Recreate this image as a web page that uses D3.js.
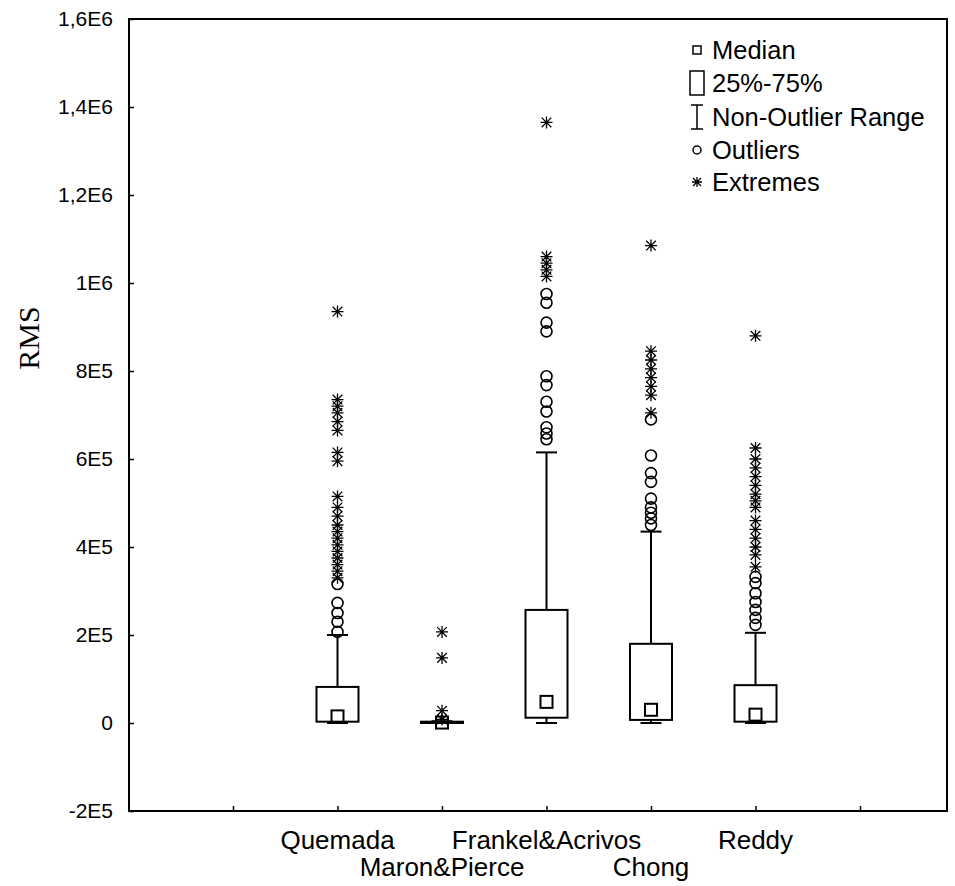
<!DOCTYPE html>
<html>
<head>
<meta charset="utf-8">
<script src="https://cdn.jsdelivr.net/npm/d3@7"></script>
<style>
  html, body { margin: 0; padding: 0; background: #fff; }
  svg { display: block; }
  text { font-family: "Liberation Sans", Arial, sans-serif; fill: #000; }
</style>
</head>
<body>
<svg id="chart" width="955" height="886"></svg>
<script>
// Box-plot summary per model
const categories = ["Quemada", "Maron&Pierce", "Frankel&Acrivos", "Chong", "Reddy"];
const whiskerLow  = [0, 0, 0, 0, 0];
const q1          = [3000, 0, 12000, 7000, 3000];
const medians     = [15000, 1000, 48000, 30000, 19000];
const q3          = [82000, 3000, 257000, 180000, 86000];
const whiskerHigh = [200000, 4000, 615000, 435000, 205000];

// Outliers (circles) and extremes (asterisks) per model
const outliers = [
  [207000, 230000, 250000, 273000, 316000],
  [],
  [645000, 658000, 672000, 708000, 730000, 768000, 788000, 890000, 910000, 955000, 975000],
  [450000, 465000, 478000, 490000, 510000, 548000, 568000, 608000, 690000],
  [223000, 239000, 257000, 275000, 295000, 318000, 332000]
];
const extremes = [
  [330000, 345000, 360000, 375000, 390000, 405000, 420000, 435000, 450000, 470000, 490000,
   515000, 595000, 615000, 665000, 685000, 705000, 720000, 735000, 935000],
  [8000, 28000, 148000, 207000],
  [1015000, 1030000, 1045000, 1060000, 1365000],
  [705000, 745000, 765000, 785000, 805000, 825000, 845000, 1085000],
  [355000, 382000, 400000, 420000, 440000, 460000, 490000, 505000, 520000, 540000,
   560000, 580000, 600000, 625000, 880000]
];

// Axis ticks
const yTicks = [-200000, 0, 200000, 400000, 600000, 800000, 1000000, 1200000, 1400000, 1600000];
const yTickLabels = ["-2E5", "0", "2E5", "4E5", "6E5", "8E5", "1E6", "1,2E6", "1,4E6", "1,6E6"];
const xTicks = [0, 1, 2, 3, 4, 5, 6];

const legendItems = ["Median", "25%-75%", "Non-Outlier Range", "Outliers", "Extremes"];

const svg = d3.select("#chart");
const frame = { left: 129, right: 947, top: 19, bottom: 811 };

const y = d3.scaleLinear().domain([-200000, 1600000]).range([frame.bottom, frame.top]);
const x = d3.scaleLinear().domain([0, 6]).range([233, 860]);

svg.append("rect").attr("width", 955).attr("height", 886).attr("fill", "#fff");

// Y axis (ticks point inward)
const yAxis = d3.axisLeft(y)
  .tickValues(yTicks)
  .tickSize(-5)
  .tickPadding(16)
  .tickFormat((d, i) => yTickLabels[i]);
const gy = svg.append("g").attr("transform", `translate(${frame.left},0)`).call(yAxis);
gy.select(".domain").remove();
gy.selectAll("line").attr("stroke", "#000").attr("stroke-width", 1.5);
gy.selectAll("text").style("font-size", "21px").attr("fill", "#000");

// X axis ticks (inward), labels drawn separately in two staggered rows
const xAxis = d3.axisBottom(x).tickValues(xTicks).tickSize(-5).tickFormat("");
const gx = svg.append("g").attr("transform", `translate(0,${frame.bottom})`).call(xAxis);
gx.select(".domain").remove();
gx.selectAll("line").attr("stroke", "#000").attr("stroke-width", 1.5);

svg.append("g").selectAll("text")
  .data(categories)
  .join("text")
  .attr("x", (d, i) => x(i + 1))
  .attr("y", (d, i) => i % 2 === 0 ? 849 : 876)
  .attr("text-anchor", "middle")
  .style("font-size", "26px")
  .text(d => d);

// Frame
svg.append("rect")
  .attr("x", frame.left).attr("y", frame.top)
  .attr("width", frame.right - frame.left).attr("height", frame.bottom - frame.top)
  .attr("fill", "none").attr("stroke", "#000").attr("stroke-width", 2);

// Y axis title
svg.append("text")
  .attr("transform", "translate(39,338) rotate(-90)")
  .attr("text-anchor", "middle")
  .style("font-family", "'Liberation Serif', 'Times New Roman', serif")
  .style("font-size", "30px")
  .text("RMS");

const boxW = 42, capW = 21, medS = 12;

function starPath(r) {
  const d = r * 0.8;
  return `M${-r},0L${r},0M0,${-r}L0,${r}M${-d},${-d}L${d},${d}M${-d},${d}L${d},${-d}`;
}

const boxes = svg.append("g");
categories.forEach((c, i) => {
  const cx = x(i + 1);
  const g = boxes.append("g");
  // whisker stem
  g.append("line")
    .attr("x1", cx).attr("x2", cx)
    .attr("y1", y(whiskerLow[i])).attr("y2", y(whiskerHigh[i]))
    .attr("stroke", "#000").attr("stroke-width", 2);
  // caps
  [whiskerLow[i], whiskerHigh[i]].forEach(v => {
    g.append("line")
      .attr("x1", cx - capW / 2).attr("x2", cx + capW / 2)
      .attr("y1", y(v)).attr("y2", y(v))
      .attr("stroke", "#000").attr("stroke-width", 2);
  });
  // box
  g.append("rect")
    .attr("x", cx - boxW / 2).attr("width", boxW)
    .attr("y", y(q3[i])).attr("height", Math.max(1, y(q1[i]) - y(q3[i])))
    .attr("fill", "#fff").attr("stroke", "#000").attr("stroke-width", 2);
  // median
  g.append("rect")
    .attr("x", cx - medS / 2).attr("y", y(medians[i]) - medS / 2)
    .attr("width", medS).attr("height", medS)
    .attr("fill", "none").attr("stroke", "#000").attr("stroke-width", 2);
  // outliers
  g.selectAll("circle.o").data(outliers[i]).join("circle")
    .attr("class", "o")
    .attr("cx", cx).attr("cy", d => y(d)).attr("r", 5.5)
    .attr("fill", "none").attr("stroke", "#000").attr("stroke-width", 1.6);
  // extremes
  g.selectAll("path.e").data(extremes[i]).join("path")
    .attr("class", "e")
    .attr("transform", d => `translate(${cx},${y(d)})`)
    .attr("d", starPath(6))
    .attr("stroke", "#000").attr("stroke-width", 1.3).attr("fill", "none");
});

// Legend
const lg = svg.append("g");
const lx = 697, ly = [50, 83, 117, 150, 182], tx = 712;
lg.append("rect").attr("x", lx - 4).attr("y", ly[0] - 4).attr("width", 8).attr("height", 8)
  .attr("fill", "none").attr("stroke", "#000").attr("stroke-width", 1.5);
lg.append("rect").attr("x", lx - 7).attr("y", ly[1] - 12).attr("width", 14).attr("height", 24)
  .attr("fill", "none").attr("stroke", "#000").attr("stroke-width", 1.5);
lg.append("path")
  .attr("d", `M${lx - 6},${ly[2] - 12}H${lx + 6}M${lx},${ly[2] - 12}V${ly[2] + 12}M${lx - 6},${ly[2] + 12}H${lx + 6}`)
  .attr("stroke", "#000").attr("stroke-width", 1.5).attr("fill", "none");
lg.append("circle").attr("cx", lx).attr("cy", ly[3]).attr("r", 4)
  .attr("fill", "none").attr("stroke", "#000").attr("stroke-width", 1.5);
lg.append("path").attr("transform", `translate(${lx},${ly[4]})`).attr("d", starPath(5))
  .attr("stroke", "#000").attr("stroke-width", 1.3).attr("fill", "none");
lg.selectAll("text.l").data(legendItems).join("text")
  .attr("class", "l")
  .attr("x", tx).attr("y", (d, i) => ly[i])
  .attr("dy", "0.35em")
  .style("font-size", "25.5px")
  .text(d => d);
</script>
</body>
</html>
